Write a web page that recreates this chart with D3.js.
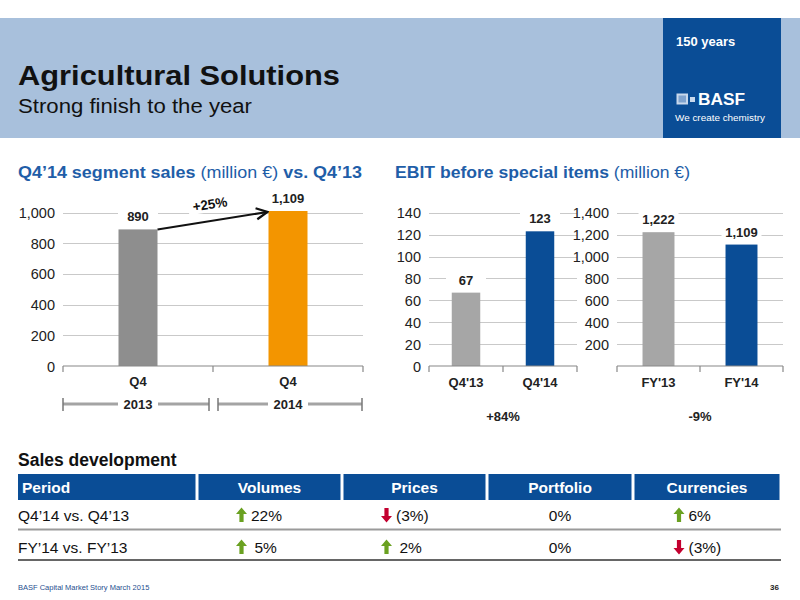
<!DOCTYPE html>
<meta charset="utf-8">
<script src="https://d3js.org/d3.v7.min.js"></script>
<style>
  body { margin: 0; background: #fff; }
  text { font-family: "Liberation Sans", Arial, Helvetica, sans-serif; }
</style>
<body>
<div id="slide"></div>
<script>

// ---- data ----
var salesCats = ["Q4 2013", "Q4 2014"];
var salesQuarter = ["Q4", "Q4"];
var salesYears = ["2013", "2014"];
var salesValues = [890, 1109];
var salesLabels = ["890", "1,109"];
var salesTicks = [0, 200, 400, 600, 800, 1000];
var salesChange = "+25%";

var ebitQCats = ["Q4'13", "Q4'14"];
var ebitQValues = [67, 123];
var ebitQLabels = ["67", "123"];
var ebitQTicks = [0, 20, 40, 60, 80, 100, 120, 140];
var ebitQChange = "+84%";

var ebitYCats = ["FY'13", "FY'14"];
var ebitYValues = [1222, 1109];
var ebitYLabels = ["1,222", "1,109"];
var ebitYTicks = [200, 400, 600, 800, 1000, 1200, 1400];
var ebitYChange = "-9%";

var tableHeader = ["Period", "Volumes", "Prices", "Portfolio", "Currencies"];
var tablePeriods = ["Q4\u201914 vs. Q4\u201913", "FY\u201914 vs. FY\u201913"];
var tableVolumes = ["22%", "5%"];
var tablePrices = ["(3%)", "2%"];
var tablePortfolio = ["0%", "0%"];
var tableCurrencies = ["6%", "(3%)"];
// +1 up arrow, -1 down arrow, 0 none
var dirVolumes = [1, 1];
var dirPrices = [-1, 1];
var dirPortfolio = [0, 0];
var dirCurrencies = [1, -1];

var blue = "#0a4d96", titleBlue = "#1f5ea8";

var svg = d3.select("#slide").append("svg")
  .attr("width", 800).attr("height", 600);

// ---- header band ----
svg.append("rect").attr("x", 0).attr("y", 18).attr("width", 800).attr("height", 120)
  .attr("fill", "#a8c0dc");
svg.append("rect").attr("x", 663).attr("y", 18).attr("width", 118).attr("height", 120)
  .attr("fill", blue);
svg.append("text").attr("x", 18).attr("y", 85).attr("font-size", 28).attr("font-weight", "bold")
  .attr("fill", "#111").attr("textLength", 322).attr("lengthAdjust", "spacingAndGlyphs")
  .text("Agricultural Solutions");
svg.append("text").attr("x", 18).attr("y", 113).attr("font-size", 19.5)
  .attr("fill", "#111").attr("textLength", 234).attr("lengthAdjust", "spacingAndGlyphs")
  .text("Strong finish to the year");
svg.append("text").attr("x", 676).attr("y", 46).attr("font-size", 13).attr("font-weight", "bold")
  .attr("fill", "#fff").text("150 years");
// logo
svg.append("rect").attr("x", 677.5).attr("y", 94.5).attr("width", 9.5).attr("height", 9)
  .attr("fill", "#7fa3cf").attr("stroke", "#c8d8ec").attr("stroke-width", 2);
svg.append("rect").attr("x", 690).attr("y", 97).attr("width", 5).attr("height", 5).attr("fill", "#c8d8ec");
svg.append("text").attr("x", 698).attr("y", 104.5).attr("font-size", 16).attr("font-weight", "bold")
  .attr("fill", "#fff").attr("textLength", 47).attr("lengthAdjust", "spacingAndGlyphs").text("BASF");
svg.append("text").attr("x", 675).attr("y", 121).attr("font-size", 8.5)
  .attr("fill", "#fff").attr("textLength", 90).attr("lengthAdjust", "spacingAndGlyphs").text("We create chemistry");

// ---- section titles ----
var t1 = svg.append("text").attr("x", 18).attr("y", 178).attr("font-size", 17).attr("fill", titleBlue)
  .attr("textLength", 344).attr("lengthAdjust", "spacingAndGlyphs");
t1.append("tspan").attr("font-weight", "bold").text("Q4\u201914 segment sales ");
t1.append("tspan").text("(million \u20ac) ");
t1.append("tspan").attr("font-weight", "bold").text("vs. Q4\u201913");
var t2 = svg.append("text").attr("x", 395).attr("y", 178).attr("font-size", 17).attr("fill", titleBlue)
  .attr("textLength", 295).attr("lengthAdjust", "spacingAndGlyphs");
t2.append("tspan").attr("font-weight", "bold").text("EBIT before special items ");
t2.append("tspan").text("(million \u20ac)");

// ---- generic bar chart ----
function barChart(opt) {
  var g = svg.append("g");
  var x = d3.scaleBand().domain(opt.cats).range([opt.x0, opt.x1])
    .paddingInner(opt.pad).paddingOuter(opt.pad / 2);
  var y = d3.scaleLinear().domain([0, opt.max]).range([366, opt.top]).clamp(true);

  // gridlines
  g.selectAll(".grid").data(opt.ticks.filter(function (d) { return d > 0; })).enter()
    .append("line")
    .attr("x1", opt.x0).attr("x2", opt.x1)
    .attr("y1", function (d) { return Math.round(y(d)) + 0.5; })
    .attr("y2", function (d) { return Math.round(y(d)) + 0.5; })
    .attr("stroke", "#c9c9c9").attr("stroke-width", 1);

  // tick labels
  g.selectAll(".tl").data(opt.ticks).enter().append("text")
    .attr("x", opt.x0 - 8).attr("y", function (d) { return y(d) + 5.5; })
    .attr("text-anchor", "end").attr("font-size", 14.5).attr("fill", "#222")
    .text(d3.format(","));

  // label backgrounds + labels
  var lab = g.selectAll(".lab").data(opt.values).enter().append("g");
  lab.append("rect")
    .attr("x", function (d, i) { return x(opt.cats[i]) + x.bandwidth() / 2 - 20; })
    .attr("y", function (d) { return y(d) - 21; })
    .attr("width", 40).attr("height", 16).attr("fill", "#fff");
  lab.append("text")
    .attr("x", function (d, i) { return x(opt.cats[i]) + x.bandwidth() / 2; })
    .attr("y", function (d) { return y(d) - 8; })
    .attr("text-anchor", "middle").attr("font-size", 13).attr("font-weight", "bold")
    .attr("fill", "#222")
    .text(function (d, i) { return opt.labels[i]; });

  // bars
  g.selectAll(".bar").data(opt.values).enter().append("rect")
    .attr("x", function (d, i) { return x(opt.cats[i]); })
    .attr("width", x.bandwidth())
    .attr("y", function (d) { return y(d); })
    .attr("height", function (d) { return y(0) - y(d); })
    .attr("fill", function (d, i) { return opt.colors[i]; });

  // axis baseline with boundary ticks
  var ax = g.append("g").attr("transform", "translate(0,366)");
  ax.append("line").attr("x1", opt.x0).attr("x2", opt.x1).attr("stroke", "#888").attr("stroke-width", 1.2);
  var bounds = [opt.x0, (opt.x0 + opt.x1) / 2, opt.x1];
  ax.selectAll(".tk").data(bounds).enter().append("line")
    .attr("x1", function (d) { return d; }).attr("x2", function (d) { return d; })
    .attr("y1", 0).attr("y2", 6).attr("stroke", "#888").attr("stroke-width", 1.2);

  // category labels
  g.selectAll(".cat").data(opt.catLabels).enter().append("text")
    .attr("x", function (d, i) { return x(opt.cats[i]) + x.bandwidth() / 2; })
    .attr("y", opt.catY).attr("text-anchor", "middle")
    .attr("font-size", 13).attr("font-weight", "bold").attr("fill", "#222")
    .text(function (d) { return d; });

  return { x: x, y: y, g: g };
}

// ---- left: segment sales ----
var sales = barChart({
  cats: salesCats, values: salesValues, labels: salesLabels, catLabels: salesQuarter,
  ticks: salesTicks, max: 1010, top: 211, x0: 63, x1: 363, pad: 0.74,
  colors: ["#8e8e8e", "#f39500"], catY: 386
});

// arrow with change label
svg.append("defs").append("marker").attr("id", "ah")
  .attr("viewBox", "0 0 10 10").attr("refX", 9).attr("refY", 5)
  .attr("markerWidth", 7).attr("markerHeight", 7).attr("orient", "auto")
  .append("path").attr("d", "M1,1 L9,5 L1,9").attr("fill", "none")
  .attr("stroke", "#111").attr("stroke-width", 1.6);
var sx = sales.x, sy = sales.y;
var ax0 = sx(salesCats[0]) + sx.bandwidth(), ay0 = sy(salesValues[0]);
var ax1 = sx(salesCats[1]) - 1, ay1 = sy(salesValues[1]) + 1;
var mx = (ax0 + ax1) / 2, my = (ay0 + ay1) / 2;
var ang = Math.atan2(ay1 - ay0, ax1 - ax0) * 180 / Math.PI;
svg.append("rect").attr("x", mx - 22).attr("y", my - 26).attr("width", 44).attr("height", 17)
  .attr("fill", "#fff").attr("transform", "rotate(" + ang + "," + mx + "," + my + ")");
svg.append("line").attr("x1", ax0).attr("y1", ay0).attr("x2", ax1).attr("y2", ay1)
  .attr("stroke", "#111").attr("stroke-width", 2).attr("marker-end", "url(#ah)");
svg.append("text").attr("x", mx).attr("y", my - 12).attr("text-anchor", "middle")
  .attr("font-size", 13.5).attr("font-weight", "bold").attr("fill", "#111")
  .attr("transform", "rotate(" + ang + "," + mx + "," + my + ")")
  .text(salesChange);

// year brackets
var yr = svg.append("g");
salesCats.forEach(function (c, i) {
  var a = i === 0 ? 63 : 218, b = i === 0 ? 209 : 362;
  var cx = sx(c) + sx.bandwidth() / 2;
  yr.append("line").attr("x1", a).attr("x2", b).attr("y1", 404).attr("y2", 404)
    .attr("stroke", "#a4a4a4").attr("stroke-width", 3);
  [a, b].forEach(function (e) {
    yr.append("line").attr("x1", e).attr("x2", e).attr("y1", 398).attr("y2", 411)
      .attr("stroke", "#777").attr("stroke-width", 1.5);
  });
  yr.append("rect").attr("x", cx - 20).attr("y", 397).attr("width", 40).attr("height", 14).attr("fill", "#fff");
  yr.append("text").attr("x", cx).attr("y", 409).attr("text-anchor", "middle")
    .attr("font-size", 13).attr("font-weight", "bold").attr("fill", "#222").text(salesYears[i]);
});

// ---- right: EBIT charts ----
var eq = barChart({
  cats: ebitQCats, values: ebitQValues, labels: ebitQLabels, catLabels: ebitQCats,
  ticks: ebitQTicks, max: 140, top: 212.7, x0: 429, x1: 577, pad: 0.615,
  colors: ["#a6a6a6", blue], catY: 387
});
var ey = barChart({
  cats: ebitYCats, values: ebitYValues, labels: ebitYLabels, catLabels: ebitYCats,
  ticks: ebitYTicks, max: 1400, top: 212.7, x0: 617, x1: 783, pad: 0.615,
  colors: ["#a6a6a6", blue], catY: 387
});
svg.append("text").attr("x", 503).attr("y", 421).attr("text-anchor", "middle")
  .attr("font-size", 13).attr("font-weight", "bold").attr("fill", "#222").text(ebitQChange);
svg.append("text").attr("x", 700).attr("y", 421).attr("text-anchor", "middle")
  .attr("font-size", 13).attr("font-weight", "bold").attr("fill", "#222").text(ebitYChange);

// ---- table ----
svg.append("text").attr("x", 18).attr("y", 466).attr("font-size", 17.5).attr("font-weight", "bold")
  .attr("fill", "#111").text("Sales development");

var colX = [18, 197, 342, 487, 633, 781];
var hdr = svg.append("g");
tableHeader.forEach(function (h, i) {
  hdr.append("rect").attr("x", colX[i] + (i ? 1.5 : 0)).attr("y", 474)
    .attr("width", colX[i + 1] - colX[i] - (i ? 3 : 1.5)).attr("height", 26).attr("fill", blue);
  hdr.append("text")
    .attr("x", i === 0 ? 22 : (colX[i] + colX[i + 1]) / 2)
    .attr("y", 492.5).attr("text-anchor", i === 0 ? "start" : "middle")
    .attr("font-size", 15.5).attr("font-weight", "bold").attr("fill", "#fff").text(h);
});

var rowY = [515, 547];
var cols = [
  { vals: tableVolumes, dirs: dirVolumes },
  { vals: tablePrices, dirs: dirPrices },
  { vals: tablePortfolio, dirs: dirPortfolio },
  { vals: tableCurrencies, dirs: dirCurrencies }
];
function arrow(g, cx, cy, dir) {
  // up arrow path centred at cx,cy; flipped for down
  var p = "M0,-7.5 L5.5,-1 L2.1,-1 L2.1,7 L-2.1,7 L-2.1,-1 L-5.5,-1 Z";
  g.append("path").attr("d", p)
    .attr("transform", "translate(" + cx + "," + cy + ")" + (dir < 0 ? " scale(1,-1)" : ""))
    .attr("fill", dir > 0 ? "#6aa121" : "#c3002f");
}
var body = svg.append("g");
tablePeriods.forEach(function (p, r) {
  body.append("text").attr("x", 18).attr("y", rowY[r] + 5.5).attr("font-size", 15.5)
    .attr("fill", "#111").text(p);
  cols.forEach(function (c, j) {
    var mid = (colX[j + 1] + colX[j + 2]) / 2;
    var v = c.vals[r], d = c.dirs[r];
    if (d === 0) {
      body.append("text").attr("x", mid).attr("y", rowY[r] + 5.5).attr("text-anchor", "middle")
        .attr("font-size", 15.5).attr("fill", "#111").text(v);
    } else {
      var ax = mid - 28;
      arrow(body, ax, rowY[r], d);
      body.append("text").attr("x", ax + (v.length > 3 || r === 0 ? 9.5 : 13)).attr("y", rowY[r] + 5.5)
        .attr("font-size", 15.5).attr("fill", "#111").text(v);
    }
  });
});
body.append("line").attr("x1", 18).attr("x2", 781).attr("y1", 529.5).attr("y2", 529.5)
  .attr("stroke", "#9a9a9a").attr("stroke-width", 2);
body.append("line").attr("x1", 18).attr("x2", 781).attr("y1", 560).attr("y2", 560)
  .attr("stroke", "#333").attr("stroke-width", 1.3);

// ---- footer ----
svg.append("text").attr("x", 18).attr("y", 590).attr("font-size", 7.5).attr("fill", "#1f4f8f")
  .text("BASF Capital Market Story March 2015");
svg.append("text").attr("x", 779).attr("y", 590).attr("text-anchor", "end").attr("font-size", 8)
  .attr("font-weight", "bold").attr("fill", "#222").text("36");

</script>
</body>
